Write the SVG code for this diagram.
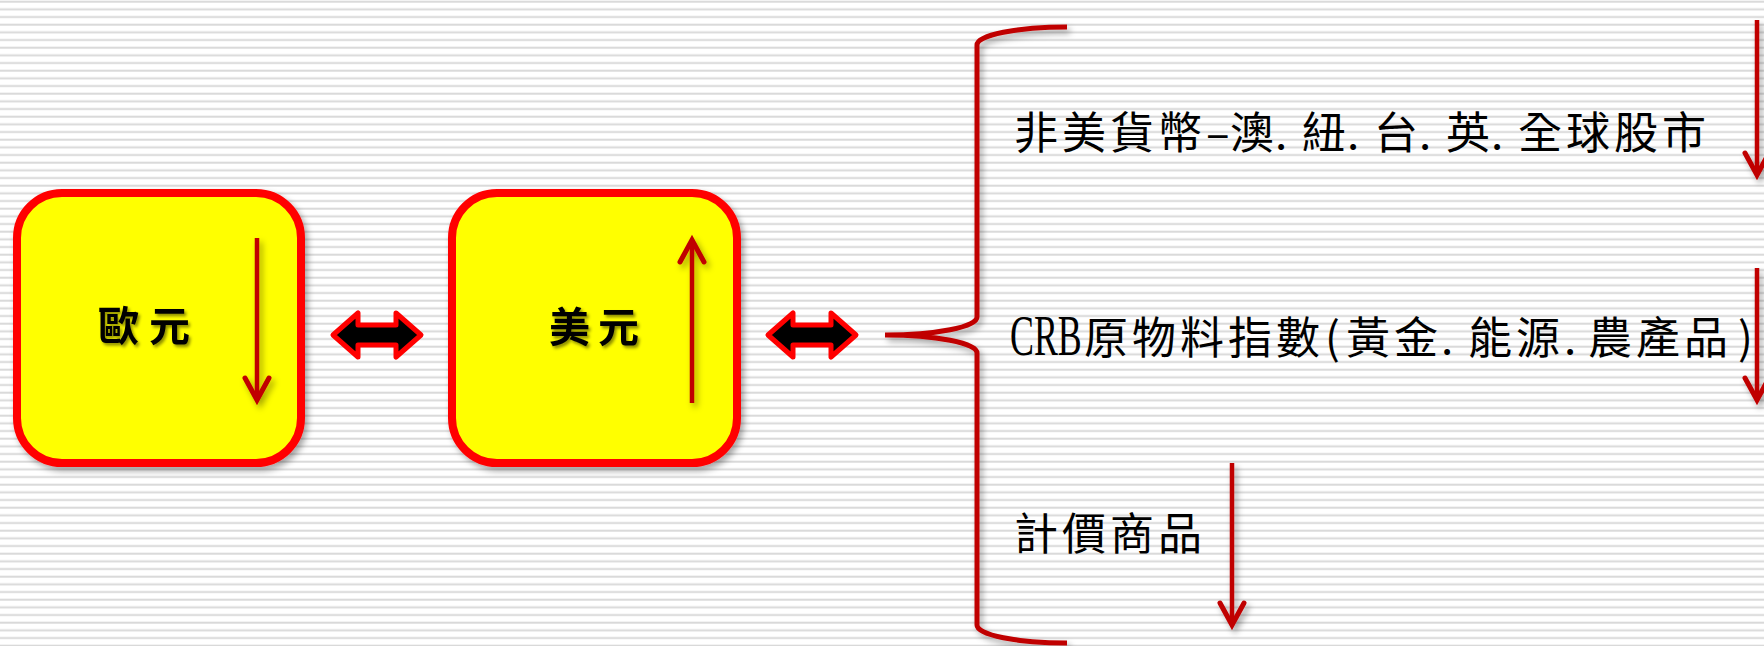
<svg xmlns="http://www.w3.org/2000/svg" width="1764" height="646" viewBox="0 0 1764 646">
  <defs>
    <pattern id="bgLines" patternUnits="userSpaceOnUse" x="0" y="0" width="40" height="7.6667">
      <rect x="0" y="0.67" width="40" height="2" fill="#D9D9D9"/>
    </pattern>
    <filter id="shadow" filterUnits="userSpaceOnUse" x="0" y="0" width="1764" height="646">
      <feDropShadow dx="3" dy="4" stdDeviation="3" flood-color="#000" flood-opacity="0.35"/>
    </filter>
    <filter id="textShadow" filterUnits="userSpaceOnUse" x="0" y="0" width="1764" height="646">
      <feDropShadow dx="2" dy="2.5" stdDeviation="1.5" flood-color="#000" flood-opacity="0.45"/>
    </filter>
    <marker id="openHead" markerUnits="userSpaceOnUse" markerWidth="34" markerHeight="34" viewBox="0 0 34 34" refX="28" refY="17" orient="auto">
      <path d="M6,5 L28,17 L6,29" fill="none" stroke="#C00000" stroke-width="5" stroke-linecap="round" stroke-linejoin="miter"/>
    </marker>
    <path id="dblArrow" d="M-44,0 L-19,-22 L-19,-10 L19,-10 L19,-22 L44,0 L19,22 L19,10 L-19,10 L-19,22 Z"/>
    <style>
      .box { fill: #FFFF00; stroke: #FF0000; stroke-width: 8; }
      .boxLabel { font-family: "Noto Sans CJK TC", "Noto Sans CJK SC", sans-serif; font-weight: 700; font-size: 41px; fill: #000; }
      .trend { fill: none; stroke: #C00000; stroke-width: 4.5; marker-end: url(#openHead); }
      .dbl { fill: #000; stroke: #FF0000; stroke-width: 5; stroke-linejoin: round; }
      .brace { fill: none; stroke: #C00000; stroke-width: 5; stroke-linecap: butt; }
      .item { font-family: "Noto Sans CJK TC", "Noto Sans CJK SC", sans-serif; font-size: 44px; fill: #000; }
      .latin { font-family: "Liberation Serif", serif; font-size: 56px; fill: #000; }
    </style>
  </defs>

  <rect x="0" y="0" width="1764" height="646" fill="#FFFFFF"/>
  <rect x="0" y="0" width="1764" height="646" fill="url(#bgLines)"/>

  <g id="node-euro">
    <rect class="box" x="17" y="193" width="284" height="270" rx="45" ry="45" filter="url(#shadow)"/>
    <text class="boxLabel" x="98 149" y="341" filter="url(#textShadow)">歐元</text>
    <path class="trend" d="M257,238 V400" filter="url(#shadow)"/>
  </g>

  <g id="node-usd">
    <rect class="box" x="452" y="193" width="285" height="270" rx="45" ry="45" filter="url(#shadow)"/>
    <text class="boxLabel" x="549 598" y="342" filter="url(#textShadow)">美元</text>
    <path class="trend" d="M692,403 V240" filter="url(#shadow)"/>
  </g>

  <g id="connectors">
    <use href="#dblArrow" class="dbl" transform="translate(377,335)"/>
    <use href="#dblArrow" class="dbl" transform="translate(812,335)"/>
    <path class="brace" d="M1067,27 A90,18 0 0 0 977,45 L977,317 A92,18 0 0 1 885,335 A92,18 0 0 1 977,353 L977,625 A90,18 0 0 0 1067,643" filter="url(#shadow)"/>
  </g>

  <g id="node-nonusd">
    <text class="item" y="149" x="1014 1062 1110 1158 1206 1230 1275 1302 1347 1374 1419 1446 1491 1518 1566 1614 1662">非美貨幣–澳.紐.台.英.全球股市</text>
    <path class="trend" d="M1757,20 V175" filter="url(#shadow)"/>
  </g>

  <g id="node-crb">
    <text class="latin" transform="translate(1010,355) scale(0.64,1)" x="0" y="0">CRB</text>
    <text class="item" y="354" x="1084 1132 1180 1228 1276 1325 1346 1394 1441 1468 1516 1564 1588 1636 1684 1738">原物料指數(黃金.能源.農產品)</text>
    <path class="trend" d="M1757,268 V400" filter="url(#shadow)"/>
  </g>

  <g id="node-commodity">
    <text class="item" y="550" x="1014 1062 1110 1158">計價商品</text>
    <path class="trend" d="M1232,463 V625" filter="url(#shadow)"/>
  </g>
</svg>
